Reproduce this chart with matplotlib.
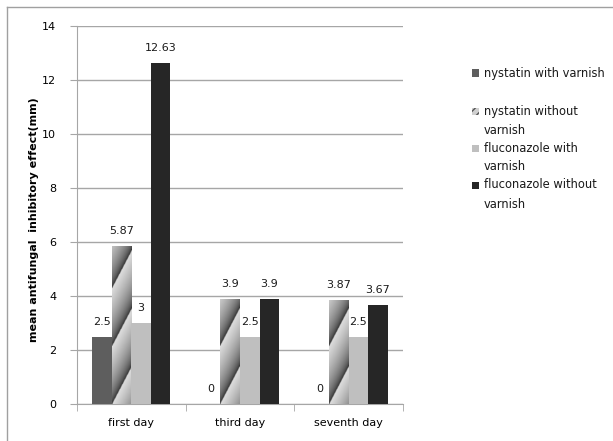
import numpy as np
import matplotlib
matplotlib.use('Agg')
import matplotlib.pyplot as plt
from matplotlib.patches import Rectangle
from matplotlib.lines import Line2D

plt.rcParams['font.family'] = ['DejaVu Sans']
plt.rcParams['hatch.linewidth'] = 1.0

days = ['first day', 'third day', 'seventh day']
legend_labels = [['nystatin with varnish'], ['nystatin without', 'varnish'],
                 ['fluconazole with', 'varnish'], ['fluconazole without', 'varnish']]
nystatin_varnish = [2.5, 0, 0]
nystatin_no_varnish = [5.87, 3.9, 3.87]
fluconazole_varnish = [3, 2.5, 2.5]
fluconazole_no_varnish = [12.63, 3.9, 3.67]
value_labels = [['2.5', '0', '0'], ['5.87', '3.9', '3.87'],
                ['3', '2.5', '2.5'], ['12.63', '3.9', '3.67']]

all_values = [nystatin_varnish, nystatin_no_varnish, fluconazole_varnish, fluconazole_no_varnish]
colors = ['#5e5e5e', None, '#bfbfbf', '#262626']

fig = plt.figure(figsize=(6.13, 4.41), dpi=100)
ax = fig.add_axes([77 / 613, 37 / 441, 326 / 613, 378 / 441])

x = np.arange(len(days))
width = 0.18
offsets = [-1.5, -0.5, 0.5, 1.5]

# the striped bar in the original is a diagonal gradient, so paint one and clip it
def stripe_image(x0, x1, y1):
    ny, nx = 300, 40
    xs = np.linspace(x0, x1, nx)
    ys = np.linspace(y1, 0, ny)
    X, Y = np.meshgrid(xs, ys)
    phase = (Y * 27 - 1.9 * (X - x0) * 109) / 58.0
    v = phase - np.floor(phase)
    return 0.12 + 0.75 * np.sqrt(v)

for i, vals in enumerate(all_values):
    pos = x + offsets[i] * width
    if colors[i] is not None:
        bars = ax.bar(pos, vals, width, color=colors[i], zorder=3)
    else:
        bars = ax.bar(pos, vals, width, color='none', zorder=3)
        for b in bars:
            h = b.get_height()
            if h <= 0:
                continue
            bx0 = b.get_x()
            bx1 = bx0 + b.get_width()
            img = ax.imshow(stripe_image(bx0, bx1, h), cmap='gray', vmin=0, vmax=1,
                            extent=[bx0, bx1, 0, h], aspect='auto', zorder=3,
                            interpolation='bilinear')
            img.set_clip_path(b)
    for b, lab in zip(bars, value_labels[i]):
        ax.annotate(lab, (b.get_x() + b.get_width() / 2, b.get_height()),
                    xytext=(0, 7), textcoords='offset points', ha='center',
                    va='bottom', fontsize=8, color='#1a1a1a', zorder=4)

ax.set_xlim(-0.5, 2.5)
ax.set_ylim(0, 14)
ax.set_yticks(np.arange(0, 15, 2))
ax.yaxis.grid(True, color='#a6a6a6', linewidth=1.0, zorder=0)
ax.set_axisbelow(True)

ax.set_xticks(x)
ax.set_xticklabels(days, fontsize=8)
ax.tick_params(axis='x', length=0, pad=10)
ax.set_xticks([-0.5, 0.5, 1.5, 2.5], minor=True)
ax.tick_params(axis='x', which='minor', length=5, color='#a6a6a6', direction='out')
ax.tick_params(axis='y', labelsize=8, length=5, color='#a6a6a6', pad=10)
for sp in ['top', 'right']:
    ax.spines[sp].set_visible(False)
ax.spines['left'].set_color('#a6a6a6')
ax.spines['bottom'].set_color('#a6a6a6')

ax.set_ylabel('mean antifungal  inhibitory effect(mm)', fontsize=8, fontweight='bold')
ax.yaxis.set_label_coords(-38 / 326, 0.487)

# legend drawn by hand so the swatch sits next to the first text line
legend_y = [73, 111, 148, 185]
line_gap = 19
for i, (lines, yy) in enumerate(zip(legend_labels, legend_y)):
    sx, sy = 472 / 613, 1 - (yy + 3.5) / 441
    sw, sh = 7 / 613, 7 / 441
    if colors[i] is not None:
        fig.patches.append(Rectangle((sx, sy), sw, sh, transform=fig.transFigure,
                                     facecolor=colors[i], edgecolor='none'))
    else:
        fig.patches.append(Rectangle((sx, sy), sw, sh, transform=fig.transFigure,
                                     facecolor='#d0d0d0', edgecolor='#555555',
                                     hatch='////', linewidth=0))
    for k, line in enumerate(lines):
        fig.text(484 / 613, 1 - (yy + k * line_gap) / 441, line, fontsize=8.3,
                 va='center', ha='left', color='#1a1a1a')

# thin chart-area frame on the left and top edges
fig.lines.append(Line2D([7 / 613, 7 / 613], [0, 1 - 7 / 441], transform=fig.transFigure,
                        color='#a0a0a0', linewidth=1))
fig.lines.append(Line2D([7 / 613, 1], [1 - 7 / 441, 1 - 7 / 441], transform=fig.transFigure,
                        color='#a0a0a0', linewidth=1))

fig.savefig('out.png', dpi=100)
